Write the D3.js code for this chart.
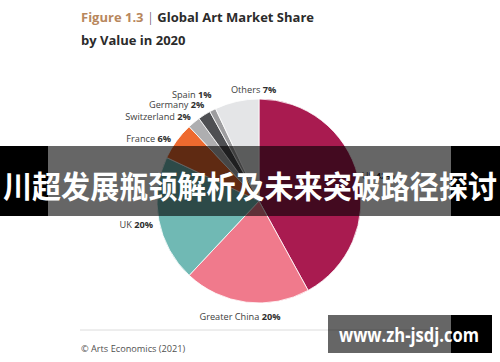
<!DOCTYPE html>
<html>
<head>
<meta charset="utf-8">
<script src="https://cdn.jsdelivr.net/npm/d3@7"></script>
<style>
  body { margin: 0; background: #fff; }
  svg { display: block; font-family: "Open Sans", sans-serif; }
</style>
</head>
<body>
<script>
// data
const regions = ['US', 'Greater China', 'UK', 'France', 'Switzerland', 'Germany', 'Spain', 'Others']
const shares = [42, 20, 20, 6, 2, 2, 1, 7]
const sliceColors = ['#a91b50', '#f07a8c', '#70b9b4', '#ee6a2f', '#aeaeb0', '#4e4f52', '#9d9d9f', '#e4e5e7']

const width = 500, height = 362
const cx = 259, cy = 201, radius = 102

// how each label sits relative to its slice (radius, anchor, nudge)
const labelLayout = {
  'US':            {r: 106, anchor: 'start',  dx: 0, dy: 0},
  'Greater China': {r: 112, anchor: 'middle', dx: -5, dy: 4},
  'UK':            {r: 110, anchor: 'end',    dx: 2, dy: 2},
  'France':        {r: 110, anchor: 'end',    dx: 1, dy: 2},
  'Switzerland':   {r: 110, anchor: 'end',    dx: 2, dy: 0},
  'Germany':       {r: 115, anchor: 'end',    dx: 7, dy: 0},
  'Spain':         {r: 120, anchor: 'end',    dx: 7, dy: 0},
  'Others':        {r: 115, anchor: 'start',  dx: -3, dy: 0}
}

const data = regions.map((name, i) => ({name: name, value: shares[i], color: sliceColors[i]}))

const svg = d3.select('body').append('svg')
    .attr('width', width)
    .attr('height', height)

svg.append('rect').attr('width', width).attr('height', height).attr('fill', '#fff')

// title
const title = svg.append('text')
    .attr('x', 81)
    .attr('y', 22)
    .style('font-size', '13px')
    .style('font-weight', 700)
    .attr('fill', '#2b2b2b')
title.append('tspan').attr('fill', '#b8875d').text('Figure 1.3 ')
title.append('tspan').style('font-weight', 300).attr('fill', '#333').text('|')
title.append('tspan').text(' Global Art Market Share')

svg.append('text')
    .attr('x', 81)
    .attr('y', 45)
    .style('font-size', '13px')
    .style('font-weight', 700)
    .attr('fill', '#2b2b2b')
    .text('by Value in 2020')

// pie
const pie = d3.pie().value(d => d.value).sort(null)
const arc = d3.arc().innerRadius(0).outerRadius(radius)
const arcs = pie(data)

const g = svg.append('g').attr('transform', 'translate(' + cx + ',' + cy + ')')

g.selectAll('path')
  .data(arcs)
  .enter()
  .append('path')
    .attr('d', arc)
    .attr('fill', d => d.data.color)
    .attr('stroke', '#fff')
    .attr('stroke-width', 0.8)

// labels
const labels = g.selectAll('.lbl')
  .data(arcs)
  .enter()
  .append('text')
    .attr('class', 'lbl')
    .each(function(d) {
      const L = labelLayout[d.data.name]
      const a = (d.startAngle + d.endAngle) / 2
      const p = d3.arc().innerRadius(L.r).outerRadius(L.r).centroid({startAngle: a, endAngle: a})
      d3.select(this)
        .attr('x', p[0] + L.dx)
        .attr('y', p[1] + L.dy)
        .attr('text-anchor', L.anchor)
    })
    .attr('dominant-baseline', 'central')
    .style('font-size', '9.2px')
    .attr('fill', '#404040')

labels.append('tspan').text(d => d.data.name + ' ')
labels.append('tspan')
    .style('font-weight', 700)
    .attr('fill', '#2e2e2e')
    .text(d => d.data.value + '%')

// footer
svg.append('line')
    .attr('x1', 80).attr('x2', 440)
    .attr('y1', 330).attr('y2', 330)
    .attr('stroke', '#dcdcdc')
    .attr('stroke-width', 1)

svg.append('text')
    .attr('x', 81)
    .attr('y', 352)
    .style('font-size', '9.2px')
    .attr('fill', '#505050')
    .text('\u00a9 Arts Economics (2021)')

// overlay banner
svg.append('rect').attr('x', 0).attr('y', 146).attr('width', 48).attr('height', 70).attr('fill', '#000')
svg.append('rect').attr('x', 48).attr('y', 146).attr('width', 403).attr('height', 70).attr('fill', 'rgba(0,0,0,0.6)')
svg.append('rect').attr('x', 451).attr('y', 146).attr('width', 49).attr('height', 70).attr('fill', '#000')

svg.append('text')
    .attr('x', 3)
    .attr('y', 198)
    .attr('textLength', 494)
    .attr('lengthAdjust', 'spacingAndGlyphs')
    .style('font-family', '"Noto Sans CJK SC", sans-serif')
    .style('font-size', '31px')
    .style('font-weight', 700)
    .attr('fill', '#fff')
    .text('川超发展瓶颈解析及未来突破路径探讨')

// watermark
svg.append('rect').attr('x', 328).attr('y', 315).attr('width', 123).attr('height', 38).attr('fill', 'rgba(0,0,0,0.6)')
svg.append('rect').attr('x', 451).attr('y', 315).attr('width', 41).attr('height', 38).attr('fill', '#000')

svg.append('text')
    .attr('x', 339)
    .attr('y', 342)
    .attr('textLength', 140)
    .attr('lengthAdjust', 'spacingAndGlyphs')
    .style('font-family', '"Open Sans", sans-serif')
    .style('font-size', '19px')
    .style('font-weight', 700)
    .attr('fill', '#fff')
    .text('www.zh-jsdj.com')
</script>
</body>
</html>
